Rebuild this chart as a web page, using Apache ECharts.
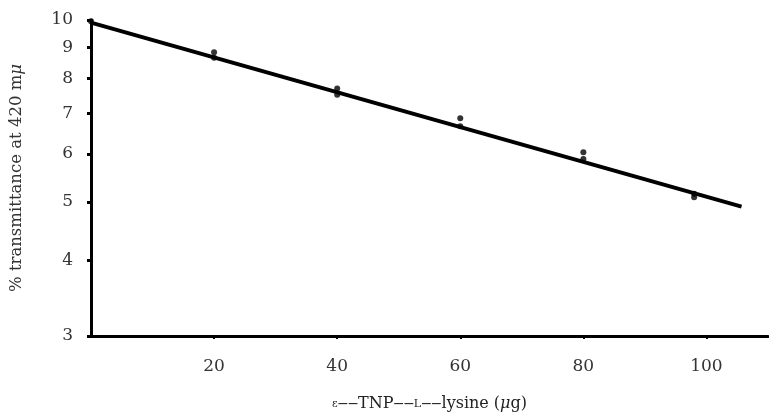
<!DOCTYPE html>
<html>
<head>
<meta charset="utf-8">
<script src="https://cdn.jsdelivr.net/npm/echarts@6/dist/echarts.min.js"></script>
<style>
  html, body { margin: 0; padding: 0; background: #fff; }
  #chart { width: 769px; height: 417px; }
</style>
</head>
<body>
<div id="chart"></div>
<script>
    'use strict';

    // amount of ε-TNP-L-lysine (μg) and measured % transmittance (duplicates)
    var amounts = [0, 20, 20, 40, 40, 60, 60, 80, 80, 98, 98];
    var transmittance = [9.95, 8.84, 8.66, 7.70, 7.52, 6.88, 6.67, 6.04, 5.89, 5.16, 5.09];

    // drawn regression line, end points
    var fitX = [0, 105.7];
    var fitY = [9.9, 4.91];

    var xTicks = [20, 40, 60, 80, 100];
    var yTicks = [3, 4, 5, 6, 7, 8, 9, 10];

    var font = '"DejaVu Serif", "Liberation Serif", serif';

    var chart = echarts.init(document.getElementById('chart'));

    var pts = amounts.map(function (x, i) { return [x, transmittance[i]]; });
    var fit = fitX.map(function (x, i) { return [x, fitY[i]]; });

    chart.setOption({
        animation: false,
        backgroundColor: '#fff',
        grid: { left: 90, right: 1, top: 20, bottom: 79 },
        xAxis: {
            type: 'value',
            min: 0,
            max: 110,
            name: '{s|ε}‒‒TNP‒‒{s|L}‒‒lysine ({i|μ}g)',
            nameLocation: 'middle',
            nameGap: 60,
            nameTextStyle: {
                fontFamily: font, fontSize: 16, color: '#222',
                rich: {
                    s: { fontFamily: font, fontSize: 11, color: '#222' },
                    i: { fontFamily: font, fontSize: 16, fontStyle: 'italic', color: '#222' }
                }
            },
            axisLine: { onZero: false, lineStyle: { color: '#000', width: 3 } },
            axisTick: { show: true, length: 3, lineStyle: { color: '#000', width: 2 }, customValues: xTicks },
            axisLabel: { customValues: xTicks, margin: 22, fontFamily: font, fontSize: 17, color: '#333' },
            splitLine: { show: false }
        },
        yAxis: {
            type: 'log',
            logBase: 10,
            min: 3,
            max: 10,
            name: '% transmittance at 420 m{i|μ}',
            nameLocation: 'middle',
            nameGap: 66,
            nameRotate: 90,
            nameTextStyle: {
                fontFamily: font, fontSize: 16.5, color: '#333',
                rich: { i: { fontFamily: font, fontSize: 16.5, fontStyle: 'italic', color: '#333' } }
            },
            axisLine: { lineStyle: { color: '#000', width: 3 } },
            axisTick: { show: true, length: 4, lineStyle: { color: '#000', width: 3 }, customValues: yTicks },
            axisLabel: { customValues: yTicks, margin: 18, fontFamily: font, fontSize: 17, color: '#333' },
            splitLine: { show: false },
            minorTick: { show: false }
        },
        series: [
            {
                type: 'line',
                data: fit,
                symbol: 'none',
                lineStyle: { color: '#000', width: 4 },
                z: 2
            },
            {
                type: 'scatter',
                data: pts,
                symbol: 'circle',
                symbolSize: 6,
                itemStyle: { color: '#000' },
                z: 3
            }
        ]
    });
</script>
</body>
</html>
